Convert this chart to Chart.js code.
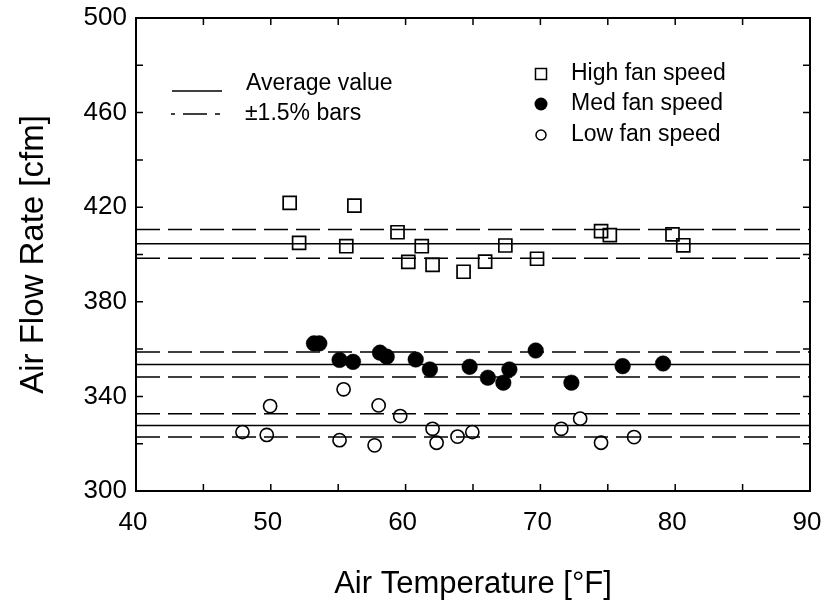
<!DOCTYPE html>
<html>
<head>
<meta charset="utf-8">
<script src="https://cdn.jsdelivr.net/npm/chart.js@4/dist/chart.umd.min.js"></script>
<style>
  html, body { margin: 0; padding: 0; background: #fff; }
  #wrap { width: 823px; height: 614px; position: relative; }
</style>
</head>
<body>
<div id="wrap"><canvas id="c"></canvas></div>
<script>
// Air flow rate measured at three fan speeds vs. air temperature
const highTemp = [51.4, 52.1, 55.6, 56.2, 59.4, 60.2, 61.2, 62.0, 64.3, 65.9, 67.4, 69.75, 74.5, 75.15, 79.8, 80.6];
const highFlow = [421.8, 404.9, 403.5, 420.7, 409.4, 396.9, 403.5, 395.6, 392.7, 397.0, 403.8, 398.2, 409.9, 408.2, 408.5, 403.9];

const medTemp = [53.2, 53.6, 55.1, 56.1, 58.1, 58.6, 60.75, 61.8, 64.75, 66.1, 67.25, 67.7, 69.65, 72.3, 76.1, 79.1];
const medFlow = [362.4, 362.4, 355.4, 354.6, 358.5, 356.8, 355.6, 351.4, 352.5, 347.9, 345.8, 351.4, 359.4, 345.8, 352.8, 353.9];

const lowTemp = [47.9, 49.7, 49.95, 55.4, 55.1, 58.0, 57.7, 59.6, 62.0, 62.3, 63.85, 64.95, 71.55, 72.95, 74.5, 76.95];
const lowFlow = [324.9, 323.7, 335.9, 343.0, 321.5, 336.2, 319.3, 331.7, 326.3, 320.4, 323.0, 324.9, 326.3, 330.6, 320.4, 322.8];

// Average flow per fan speed (high, med, low) and the band width
const avgFlow = [404.5, 353.5, 327.7];
const bandFraction = 0.015;

// Axis ranges and tick spacing
const xRange = [40, 90];
const yRange = [300, 500];
const xTickStep = 5, xLabelStep = 10;
const yTickStep = 20, yLabelStep = 40;

const FONT = '"Liberation Sans", Arial, Helvetica, sans-serif';

const pts = (xs, ys) => xs.map((x, i) => ({ x: x, y: ys[i] }));
const hLine = v => [{ x: xRange[0], y: v }, { x: xRange[1], y: v }];

const refLines = [];
avgFlow.forEach(v => {
  refLines.push({ type: 'line', data: hLine(v), borderColor: '#000', borderWidth: 1.5,
                  pointRadius: 0, showLine: true, fill: false, order: 2 });
  [v * (1 + bandFraction), v * (1 - bandFraction)].forEach(b => {
    refLines.push({ type: 'line', data: hLine(b), borderColor: '#000', borderWidth: 1.5,
                    borderDash: [24, 8], pointRadius: 0, showLine: true, fill: false, order: 2 });
  });
});

const seriesSets = [
  { label: 'High fan speed', data: pts(highTemp, highFlow), pointStyle: 'rect', pointRadius: 9.2,
    borderColor: '#000', backgroundColor: 'rgba(0,0,0,0)', pointBorderWidth: 1.7, order: 1 },
  { label: 'Med fan speed', data: pts(medTemp, medFlow), pointStyle: 'circle', pointRadius: 7.8,
    borderColor: '#000', backgroundColor: '#000', pointBorderWidth: 0.5, order: 1 },
  { label: 'Low fan speed', data: pts(lowTemp, lowFlow), pointStyle: 'circle', pointRadius: 6.6,
    borderColor: '#000', backgroundColor: 'rgba(0,0,0,0)', pointBorderWidth: 1.6, order: 1 }
];

// Frame, inward tick marks on all four sides, and the two key blocks
const framePlugin = {
  id: 'frameTicks',
  afterDraw(chart) {
    const { ctx, chartArea: a, scales } = chart;
    const xs = scales.x, ys = scales.y;
    const tl = 7;
    ctx.save();
    ctx.strokeStyle = '#000';
    ctx.lineWidth = 2;
    ctx.strokeRect(a.left, a.top, a.right - a.left, a.bottom - a.top);
    ctx.lineWidth = 1.5;
    ctx.beginPath();
    for (let v = xRange[0] + xTickStep; v < xRange[1]; v += xTickStep) {
      const px = xs.getPixelForValue(v);
      ctx.moveTo(px, a.bottom); ctx.lineTo(px, a.bottom - tl);
      ctx.moveTo(px, a.top); ctx.lineTo(px, a.top + tl);
    }
    for (let v = yRange[0] + yTickStep; v < yRange[1]; v += yTickStep) {
      const py = ys.getPixelForValue(v);
      ctx.moveTo(a.left, py); ctx.lineTo(a.left + tl, py);
      ctx.moveTo(a.right, py); ctx.lineTo(a.right - tl, py);
    }
    ctx.stroke();

    // line key
    ctx.fillStyle = '#000';
    ctx.font = '23px ' + FONT;
    ctx.textAlign = 'left';
    ctx.textBaseline = 'middle';
    ctx.lineWidth = 1.5;
    ctx.beginPath(); ctx.moveTo(172, 91); ctx.lineTo(222, 91); ctx.stroke();
    ctx.setLineDash([24, 8]); ctx.lineDashOffset = 20;
    ctx.beginPath(); ctx.moveTo(171, 114); ctx.lineTo(220, 114); ctx.stroke();
    ctx.setLineDash([]); ctx.lineDashOffset = 0;
    ctx.fillText('Average value', 246, 84);
    ctx.fillText('\u00B11.5% bars', 245, 114);

    // marker key
    const mx = 541, tx = 571;
    ctx.lineWidth = 1.5;
    ctx.strokeRect(mx - 5.5, 74 - 5.5, 11, 11);
    ctx.beginPath(); ctx.arc(mx, 104, 6.5, 0, Math.PI * 2); ctx.fill();
    ctx.beginPath(); ctx.arc(mx, 135, 5, 0, Math.PI * 2); ctx.stroke();
    ctx.fillText('High fan speed', tx, 74);
    ctx.fillText('Med fan speed', tx, 104);
    ctx.fillText('Low fan speed', tx, 135);
    ctx.restore();
  }
};

new Chart(document.getElementById('c'), {
  type: 'scatter',
  data: { datasets: refLines.concat(seriesSets) },
  options: {
    responsive: true,
    maintainAspectRatio: false,
    animation: false,
    layout: { padding: { left: 0, right: 13, top: 18, bottom: 0 } },
    plugins: { legend: { display: false }, tooltip: { enabled: false } },
    scales: {
      x: {
        type: 'linear', min: xRange[0], max: xRange[1],
        grid: { display: false, drawTicks: false },
        border: { display: false },
        ticks: {
          stepSize: xTickStep, padding: 16, labelOffset: -3, color: '#000',
          font: { family: FONT, size: 26 },
          maxRotation: 0, autoSkip: false,
          callback: v => ((v - xRange[0]) % xLabelStep === 0 ? String(v) : '')
        },
        title: { display: true, text: 'Air Temperature [\u00B0F]', color: '#000',
                 font: { family: FONT, size: 31 }, padding: { top: 0, bottom: 11 } },
        afterFit: s => { s.height = 123; s.paddingLeft = 0; s.paddingRight = 0; }
      },
      y: {
        type: 'linear', min: yRange[0], max: yRange[1],
        grid: { display: false, drawTicks: false },
        border: { display: false },
        ticks: {
          stepSize: yTickStep, padding: 9, color: '#000',
          font: { family: FONT, size: 26 },
          autoSkip: false,
          callback: v => ((v - yRange[0]) % yLabelStep === 0 ? String(v) : '')
        },
        title: { display: true, text: 'Air Flow Rate [cfm]', color: '#000',
                 font: { family: FONT, size: 33 }, padding: { top: 14, bottom: 0 } },
        afterFit: s => { s.width = 136; s.paddingTop = 0; s.paddingBottom = 0; }
      }
    }
  },
  plugins: [framePlugin]
});
</script>
</body>
</html>
